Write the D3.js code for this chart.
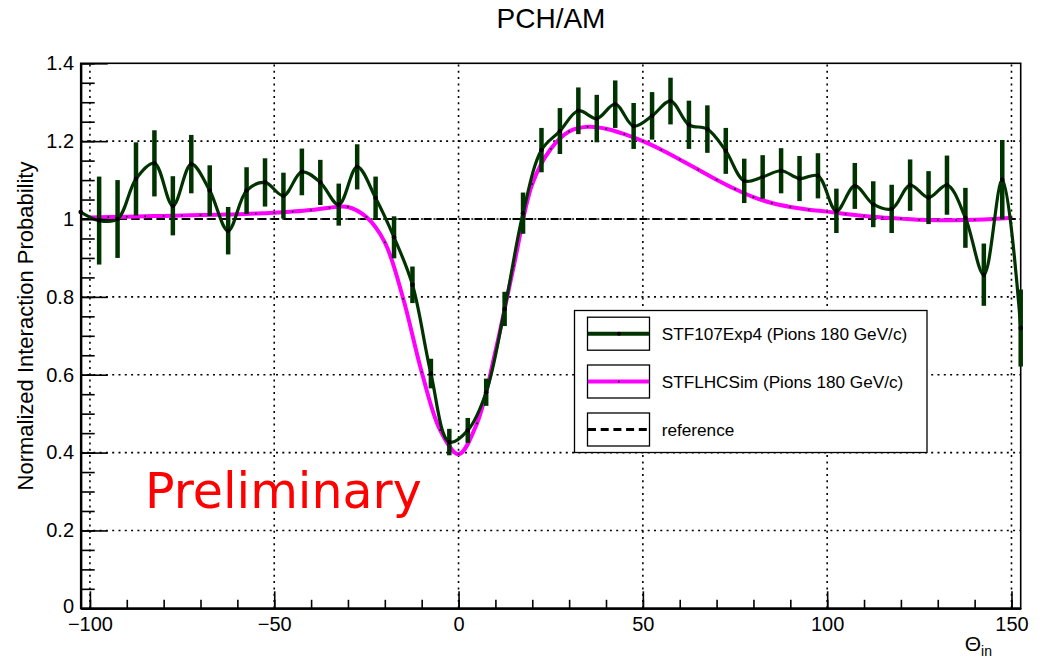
<!DOCTYPE html>
<html>
<head>
<meta charset="utf-8">
<script src="https://cdn.jsdelivr.net/npm/d3@7/dist/d3.min.js"></script>
<style>
  html, body { margin: 0; padding: 0; background: #fff; }
  svg { display: block; }
  text { font-family: "Liberation Sans", Arial, Helvetica, sans-serif; fill: #000; }
</style>
</head>
<body>
<svg id="chart" width="1040" height="660"></svg>
<script>
// Measured interaction probability (STF107Exp4), bin centres, values and errors
const expTheta = [-102.5, -97.5, -92.5, -87.5, -82.5, -77.5, -72.5, -67.5, -62.5, -57.5,
  -52.5, -47.5, -42.5, -37.5, -32.5, -27.5, -22.5, -17.5, -12.5, -7.5,
  -2.5, 2.5, 7.5, 12.5, 17.5, 22.5, 27.5, 32.5, 37.5, 42.5,
  47.5, 52.5, 57.5, 62.5, 67.5, 72.5, 77.5, 82.5, 87.5, 92.5,
  97.5, 102.5, 107.5, 112.5, 117.5, 122.5, 127.5, 132.5, 137.5, 142.5,
  147.5, 152.5];
const expValue = [1.018, 0.996, 1.000, 1.103, 1.143, 1.034, 1.141, 1.073, 0.970, 1.073,
  1.094, 1.060, 1.121, 1.094, 1.037, 1.134, 1.054, 0.953, 0.831, 0.603,
  0.427, 0.457, 0.555, 0.769, 1.015, 1.177, 1.226, 1.278, 1.258, 1.295,
  1.239, 1.265, 1.303, 1.242, 1.231, 1.175, 1.098, 1.108, 1.124, 1.104,
  1.111, 1.021, 1.085, 1.038, 1.026, 1.087, 1.055, 1.087, 1.003, 0.857,
  1.101, 0.720];
const expError = [0, 0.113, 0.100, 0.094, 0.085, 0.076, 0.075, 0.065, 0.061, 0.060,
  0.062, 0.059, 0.060, 0.058, 0.054, 0.058, 0.055, 0.054, 0.047, 0.038,
  0.034, 0.032, 0.035, 0.044, 0.053, 0.057, 0.059, 0.060, 0.061, 0.061,
  0.059, 0.061, 0.060, 0.062, 0.061, 0.059, 0.057, 0.056, 0.058, 0.058,
  0.058, 0.057, 0.059, 0.059, 0.062, 0.066, 0.068, 0.076, 0.077, 0.080,
  0.102, 0.099];

// Simulated interaction probability (STFLHCSim)
const simTheta = [-100, -95, -90, -85, -80, -75, -70, -65, -60, -55,
  -50, -45, -40, -35, -30, -25, -20, -15, -10, -5,
  0, 5, 10, 15, 20, 25, 30, 35, 40, 45,
  50, 55, 60, 65, 70, 75, 80, 85, 90, 95,
  100, 105, 110, 115, 120, 125, 130, 135, 140, 145, 150];
const simValue = [1.004, 1.005, 1.006, 1.007, 1.008, 1.009, 1.010, 1.011, 1.012, 1.014,
  1.016, 1.019, 1.023, 1.029, 1.031, 1.005, 0.940, 0.795, 0.607, 0.458,
  0.396, 0.475, 0.660, 0.880, 1.090, 1.180, 1.225, 1.237, 1.232, 1.218,
  1.200, 1.178, 1.153, 1.127, 1.101, 1.077, 1.056, 1.041, 1.031, 1.024,
  1.019, 1.013, 1.008, 1.004, 1.001, 0.998, 0.997, 0.997, 0.998, 1.000, 1.003];

// Reference level
const refValue = 1.0;

// Axis ticks
const xMajorTicks = [-100, -50, 0, 50, 100, 150];
const xMinorTicks = d3.range(-100, 151, 10);
const yMajorTicks = [0, 0.2, 0.4, 0.6, 0.8, 1, 1.2, 1.4];
const yMinorTicks = d3.range(0, 1.4001, 0.05);

const legendLabels = ["STF107Exp4 (Pions 180 GeV/c)", "STFLHCSim (Pions 180 GeV/c)", "reference"];

const GREEN = "#003300";
const MAGENTA = "#ff00ff";

const svg = d3.select("#chart");
const pLeft = 80.7, pRight = 1020.7, pTop = 63.3, pBottom = 608.3;

const x = d3.scaleLinear().domain([-102.5, 152.5]).range([pLeft, pRight]);
const y = d3.scaleLinear().domain([0, 1.4]).range([pBottom, pTop]);

svg.append("defs").append("clipPath").attr("id", "plotClip")
  .append("rect").attr("x", pLeft).attr("y", pTop).attr("width", pRight - pLeft).attr("height", pBottom - pTop);

// Dotted grid
const grid = svg.append("g").attr("stroke", "#000").attr("stroke-width", 1.6).attr("stroke-dasharray", "2,4.3");
grid.selectAll("line.gx").data(xMajorTicks).join("line")
  .attr("x1", d => x(d)).attr("x2", d => x(d)).attr("y1", pBottom).attr("y2", pTop);
grid.selectAll("line.gy").data(yMajorTicks.filter(d => d > 0 && d < 1.4)).join("line")
  .attr("x1", pLeft).attr("x2", pRight).attr("y1", d => y(d)).attr("y2", d => y(d));

// Frame
svg.append("rect").attr("x", pLeft).attr("y", pTop).attr("width", pRight - pLeft).attr("height", pBottom - pTop)
  .attr("fill", "none").attr("stroke", "#000").attr("stroke-width", 1.6);

const plot = svg.append("g").attr("clip-path", "url(#plotClip)");

// Reference line
plot.append("line")
  .attr("x1", pLeft).attr("x2", pRight).attr("y1", y(refValue)).attr("y2", y(refValue))
  .attr("stroke", "#000").attr("stroke-width", 2.2).attr("stroke-dasharray", "8,4.7");

// Simulation curve
const simPts = simTheta.map((t, i) => [t, simValue[i]]);
const line = d3.line().x(d => x(d[0])).y(d => y(d[1])).curve(d3.curveCatmullRom.alpha(0.5));
plot.append("path").datum(simPts).attr("d", line)
  .attr("fill", "none").attr("stroke", MAGENTA).attr("stroke-width", 4);
plot.selectAll("rect.simdot").data(simPts).join("rect")
  .attr("x", d => x(d[0]) - 0.8).attr("y", d => y(d[1]) - 0.8).attr("width", 1.6).attr("height", 1.6)
  .attr("fill", "#000");

// Experimental curve with error bars (bars and markers are not clipped at the frame)
const expPts = expTheta.map((t, i) => ({ t, v: expValue[i], e: expError[i] }));
const marks = svg.append("g");
marks.selectAll("line.err").data(expPts.filter(d => d.e > 0)).join("line")
  .attr("x1", d => x(d.t)).attr("x2", d => x(d.t))
  .attr("y1", d => y(d.v - d.e)).attr("y2", d => y(d.v + d.e))
  .attr("stroke", GREEN).attr("stroke-width", 4.5);
plot.append("path").datum(expPts.map(d => [d.t, d.v])).attr("d", line)
  .attr("fill", "none").attr("stroke", GREEN).attr("stroke-width", 3.2);
const dots = svg.append("g");
dots.selectAll("circle.dot").data(expPts).join("circle")
  .attr("cx", d => x(d.t)).attr("cy", d => y(d.v)).attr("r", 2.3).attr("fill", "#000");

// Axes
const axX = svg.append("g").attr("transform", `translate(0,${pBottom})`);
axX.call(d3.axisBottom(x).tickValues(xMinorTicks).tickSizeInner(-8.5).tickSizeOuter(0).tickFormat(""));
const axXM = svg.append("g").attr("transform", `translate(0,${pBottom})`);
axXM.call(d3.axisBottom(x).tickValues(xMajorTicks).tickSizeInner(-17).tickSizeOuter(0).tickPadding(9)
  .tickFormat(d => d < 0 ? "\u2212" + Math.abs(d) : String(d)));
const axY = svg.append("g").attr("transform", `translate(${pLeft},0)`);
axY.call(d3.axisLeft(y).tickValues(yMinorTicks).tickSizeInner(-14).tickSizeOuter(0).tickFormat(""));
const axYM = svg.append("g").attr("transform", `translate(${pLeft},0)`);
axYM.call(d3.axisLeft(y).tickValues(yMajorTicks).tickSizeInner(-27).tickSizeOuter(0).tickPadding(6.7)
  .tickFormat(d => d === 0 ? "0" : d === 1 ? "1" : d3.format(".1f")(d)));
[axX, axXM, axY, axYM].forEach(g => {
  g.selectAll(".domain").attr("stroke", "#000").attr("stroke-width", 2);
  g.selectAll(".tick line").attr("stroke", "#000").attr("stroke-width", 1.6);
  g.selectAll("text").attr("font-size", 20).attr("font-family", "Liberation Sans, Arial, sans-serif").attr("fill", "#000");
});
// lift the zero label a touch so it clears the first x label
axYM.selectAll(".tick").filter(d => d === 0).select("text").attr("dy", "0.2em");

// Titles
svg.append("text").attr("x", 551).attr("y", 28).attr("text-anchor", "middle")
  .attr("font-size", 28).text("PCH/AM");
svg.append("text").attr("transform", "translate(33,326) rotate(-90)").attr("text-anchor", "middle")
  .attr("font-size", 22).text("Normalized Interaction Probability");
const xt = svg.append("text").attr("x", 992).attr("y", 651).attr("text-anchor", "end").attr("font-size", 21);
xt.append("tspan").text("\u0398");
xt.append("tspan").attr("font-size", 14).attr("dy", 5).text("in");

// Preliminary watermark
svg.append("text").attr("x", 145).attr("y", 508).attr("font-size", 49)
  .style("font-family", "'DejaVu Sans', sans-serif")
  .style("fill", "#ff0000").text("Preliminary");

// Legend
const lg = svg.append("g");
lg.append("rect").attr("x", 574.5).attr("y", 310.5).attr("width", 352.5).attr("height", 142)
  .attr("fill", "#fff").attr("stroke", "#000").attr("stroke-width", 1.3);
const rowY = [333.7, 381.5, 429.5];
rowY.forEach((ry, i) => {
  lg.append("rect").attr("x", 587.5).attr("y", ry - 16.5).attr("width", 62).attr("height", 33)
    .attr("fill", "#fff").attr("stroke", "#000").attr("stroke-width", 1.3);
  const ln = lg.append("line").attr("x1", 588).attr("x2", 649).attr("y1", ry).attr("y2", ry);
  if (i === 0) {
    ln.attr("stroke", GREEN).attr("stroke-width", 4);
    lg.append("circle").attr("cx", 619).attr("cy", ry).attr("r", 2).attr("fill", "#000");
  } else if (i === 1) {
    ln.attr("stroke", MAGENTA).attr("stroke-width", 4);
    lg.append("rect").attr("x", 618).attr("y", ry - 0.8).attr("width", 1.6).attr("height", 1.6).attr("fill", "#000");
  } else {
    ln.attr("stroke", "#000").attr("stroke-width", 3).attr("stroke-dasharray", "8,4.7");
  }
  lg.append("text").attr("x", 661.7).attr("y", ry).attr("dy", "0.35em").attr("font-size", 17.2)
    .text(legendLabels[i]);
});
</script>
</body>
</html>
